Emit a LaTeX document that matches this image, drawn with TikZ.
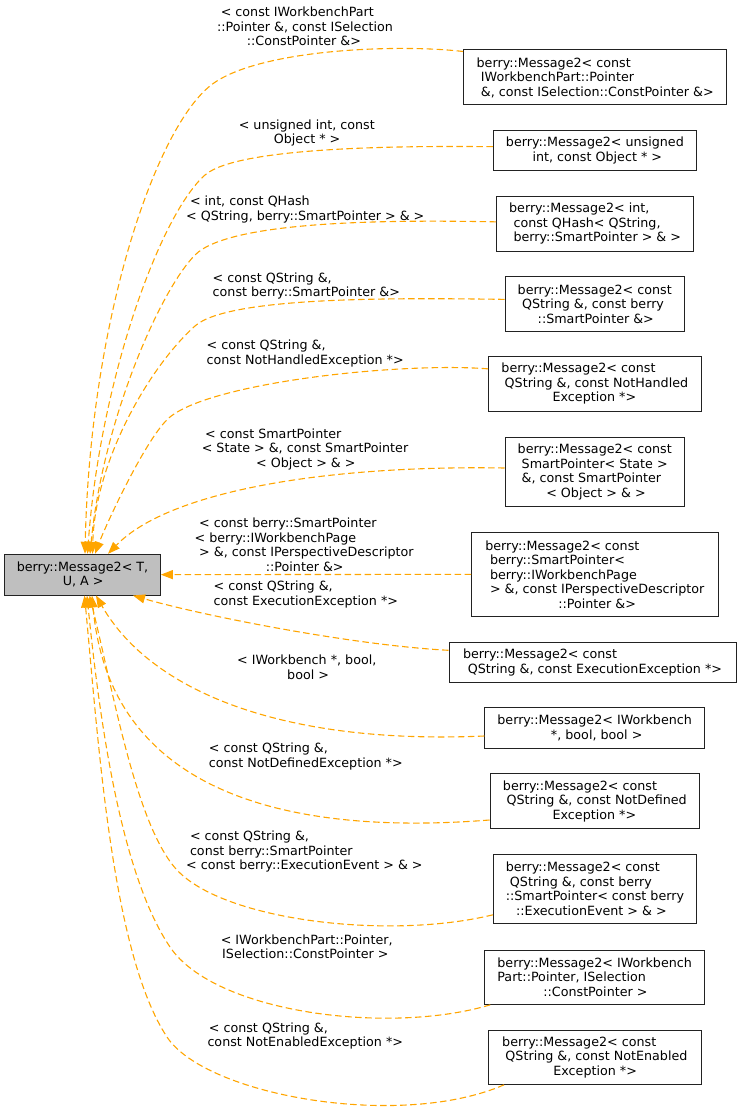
\documentclass[tikz,border=0pt]{standalone}
\usepackage{fontspec}
\setmainfont{DejaVu Sans}
\usetikzlibrary{arrows.meta}
\definecolor{edgeorange}{HTML}{FFA500}
\definecolor{maingray}{HTML}{BFBFBF}
\definecolor{boxline}{HTML}{222222}
\tikzset{
  txt/.style={font=\fontsize{12.7pt}{14.5pt}\selectfont},
  box/.style={txt, draw=boxline, line width=1pt, fill=white, align=left, inner ysep=0pt},
  mainbox/.style={box, fill=maingray},
  lbl/.style={txt, anchor=north west, inner sep=0pt, align=left},
  edge/.style={draw=edgeorange, line width=1.1pt, dash pattern=on 6.5pt off 3.5pt,
    -{Triangle[length=12pt,width=9pt,fill=edgeorange]}}
}
\begin{document}
\begin{tikzpicture}[x=1pt,y=-1pt]
\useasboundingbox (0,0) rectangle (740,1110);

% main node
\node[mainbox, minimum width=155.6pt, minimum height=40.7pt] (main) at (82.5,574.65)
  {berry::Message2< T,\\\hspace*{46pt}U, A >};

% derived boxes
\node[box, minimum width=263.3pt, minimum height=55pt] (b1) at (595.15,77.5)
  {berry::Message2< const\\\hspace*{4.3pt}IWorkbenchPart::Pointer\\\hspace*{4.3pt}\&, const ISelection::ConstPointer \&>};
\node[box, minimum width=203pt, minimum height=40pt] (b2) at (594.9,150.7)
  {berry::Message2< unsigned\\\hspace*{26.6pt}int, const Object * >};
\node[box, minimum width=196.8pt, minimum height=54.3pt] (b3) at (595.1,223.85)
  {berry::Message2< int,\\\hspace*{4.4pt}const QHash< QString,\\\hspace*{4.4pt}berry::SmartPointer > \& >};
\node[box, minimum width=179.5pt, minimum height=54.3pt] (b4) at (594.75,303.85)
  {berry::Message2< const\\\hspace*{4.3pt}QString \&, const berry\\\hspace*{20pt}::SmartPointer \&>};
\node[box, minimum width=212.4pt, minimum height=54.3pt] (b5) at (594.8,383.85)
  {berry::Message2< const\\\hspace*{3.3pt}QString \&, const NotHandled\\\hspace*{51.2pt}Exception *>};
\node[box, minimum width=179.5pt, minimum height=69.4pt] (b6) at (594.75,472)
  {berry::Message2< const\\\hspace*{4pt}SmartPointer< State >\\\hspace*{4pt}\&, const SmartPointer\\\hspace*{28.6pt}< Object > \& >};
\node[box, minimum width=246.7pt, minimum height=83.3pt] (b7) at (594.85,574.35)
  {berry::Message2< const\\\hspace*{4.7pt}berry::SmartPointer<\\\hspace*{4.7pt}berry::IWorkbenchPage\\\hspace*{4.7pt}> \&, const IPerspectiveDescriptor\\\hspace*{73pt}::Pointer \&>};
\node[box, minimum width=287pt, minimum height=40pt] (b8) at (592.5,662.3)
  {berry::Message2< const\\\hspace*{4.8pt}QString \&, const ExecutionException *>};
\node[box, minimum width=219.7pt, minimum height=40.6pt] (b9) at (594.65,728)
  {berry::Message2< IWorkbench\\\hspace*{53.6pt}*, bool, bool >};
\node[box, minimum width=209.7pt, minimum height=54.6pt] (b10) at (594.85,801)
  {berry::Message2< const\\\hspace*{3.7pt}QString \&, const NotDefined\\\hspace*{49.7pt}Exception *>};
\node[box, minimum width=203pt, minimum height=69pt] (b11) at (594.9,888.8)
  {berry::Message2< const\\\hspace*{4.2pt}QString \&, const berry\\::SmartPointer< const berry\\\hspace*{10.4pt}::ExecutionEvent > \& >};
\node[box, minimum width=219.7pt, minimum height=54.3pt] (b12) at (594.65,977.15)
  {berry::Message2< IWorkbench\\Part::Pointer, ISelection\\\hspace*{46pt}::ConstPointer >};
\node[box, minimum width=212.4pt, minimum height=54.3pt] (b13) at (594.8,1057.15)
  {berry::Message2< const\\\hspace*{3.3pt}QString \&, const NotEnabled\\\hspace*{51.2pt}Exception *>};

% edge labels
\node[lbl] (l1) at (216.8,6.7) {\hspace*{3.8pt}< const IWorkbenchPart\\::Pointer \&, const ISelection\\\hspace*{29.9pt}::ConstPointer \&>};
\node[lbl] (l2) at (238.6,119.3) {< unsigned int, const\\\hspace*{35.1pt}Object * >};
\node[lbl] (l3) at (186,195.7) {\hspace*{3.8pt}< int, const QHash\\< QString, berry::SmartPointer > \& >};
\node[lbl] (l4) at (212.5,272.3) {< const QString \&,\\const berry::SmartPointer \&>};
\node[lbl] (l5) at (206.4,340) {< const QString \&,\\const NotHandledException *>};
\node[lbl] (l6) at (201.6,428.3) {\hspace*{3.4pt}< const SmartPointer\\< State > \&, const SmartPointer\\\hspace*{54.4pt}< Object > \& >};
\node[lbl] (l7) at (194.5,517.7) {\hspace*{4.5pt}< const berry::SmartPointer\\< berry::IWorkbenchPage\\\hspace*{4.5pt}> \&, const IPerspectiveDescriptor\\\hspace*{71.2pt}::Pointer \&>};
\node[lbl] (l8) at (213.5,581) {< const QString \&,\\const ExecutionException *>};
\node[lbl] (l9) at (237,655) {< IWorkbench *, bool,\\\hspace*{50pt}bool >};
\node[lbl] (l10) at (208.7,742.7) {< const QString \&,\\const NotDefinedException *>};
\node[lbl] (l11) at (186,830.7) {\hspace*{3.8pt}< const QString \&,\\\hspace*{3.8pt}const berry::SmartPointer\\< const berry::ExecutionEvent > \& >};
\node[lbl] (l12) at (220.6,934.3) {< IWorkbenchPart::Pointer,\\\hspace*{1.4pt}ISelection::ConstPointer >};
\node[lbl] (l13) at (207.3,1022.3) {\hspace*{1.4pt}< const QString \&,\\const NotEnabledException *>};

% connectors
\draw[edge] ([yshift=-2pt]b1.north west) .. controls (400,44) and (262.5,48.7) .. (213.5,83.3)
  .. controls (156.3,123.6) and (90,320) .. ([xshift=2.5pt]main.north);
\draw[edge] ([yshift=4pt]b2.west) .. controls (420,146) and (238.75,145.3) .. (205,175)
  .. controls (160,214.6) and (100,380) .. ([xshift=5pt]main.north);
\draw[edge] ([yshift=2pt]b3.west) .. controls (400,220) and (230,219.5) .. (195,255)
  .. controls (160,290.5) and (103,420) .. ([xshift=7.5pt]main.north);
\draw[edge] ([yshift=4.5pt]b4.west) .. controls (400,298) and (228.6,296) .. (195,326)
  .. controls (150.2,365.9) and (95,460) .. ([xshift=10pt]main.north);
\draw[edge] ([yshift=15pt]b5.west) .. controls (400,362) and (212.6,382.3) .. (170,417)
  .. controls (146.75,436) and (105.5,525.8) .. ([xshift=12.5pt]main.north);
\draw[edge] ([yshift=4pt]b6.west) .. controls (330,465) and (170,490) .. ([xshift=25.5pt]main.north);
\draw[edge] (b7.west) -- (main.east);
\draw[edge] ([yshift=12pt]b8.west) .. controls (350,645) and (200,615) .. ([xshift=50.5pt]main.south);
\draw[edge] ([yshift=-8pt]b9.west) .. controls (280,745) and (150,690) .. ([xshift=13.5pt]main.south);
\draw[edge] ([yshift=-19pt]b10.west) .. controls (300,835) and (110,800) .. ([xshift=9.5pt]main.south);
\draw[edge] ([yshift=-26pt]b11.west) .. controls (390,940) and (224.6,921.1) .. (177,870)
  .. controls (136.2,826.2) and (113.5,692.5) .. ([xshift=7pt]main.south);
\draw[edge] ([xshift=6pt]b12.south west) .. controls (390,1035) and (214.8,1013.4) .. (170,947)
  .. controls (125.2,880.6) and (102,746) .. ([xshift=4.5pt]main.south);
\draw[edge] ([xshift=16pt]b13.south west) .. controls (400,1130) and (205.5,1095.5) .. (167,1037)
  .. controls (112,953.5) and (98.6,745.1) .. ([xshift=2pt]main.south);
\end{tikzpicture}
\end{document}
